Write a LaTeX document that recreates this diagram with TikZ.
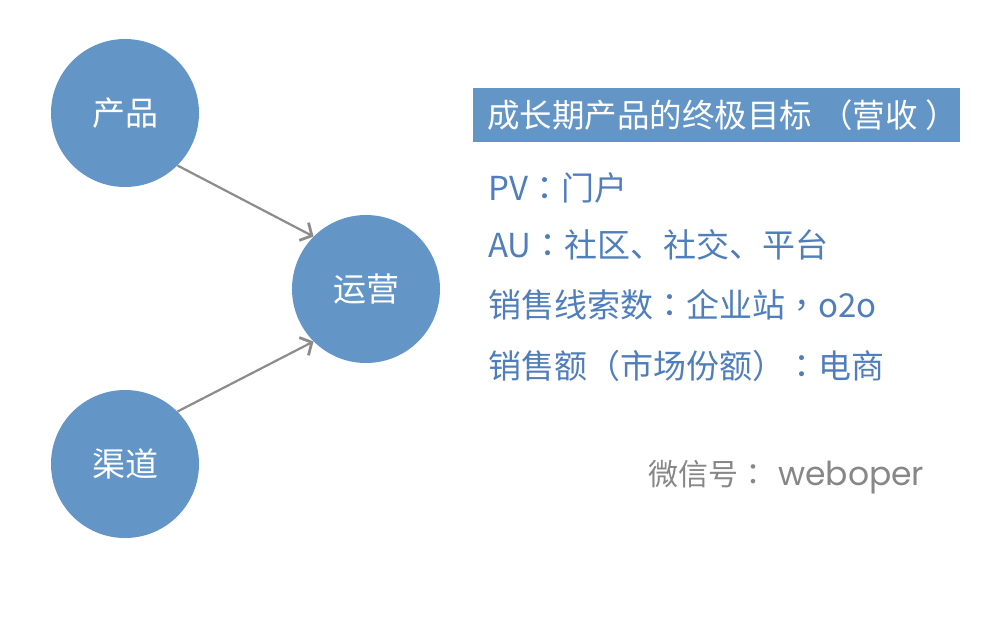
\documentclass[tikz,border=0pt]{standalone}
\usepackage{fontspec}
\setmainfont{Noto Sans CJK SC}
\newfontfamily\tcfont{Noto Sans CJK TC}
\newcommand{\pc}[1]{{\tcfont #1}}
\usetikzlibrary{arrows.meta}
\definecolor{cfill}{RGB}{99,150,199}
\definecolor{tblue}{RGB}{79,126,187}
\definecolor{agray}{RGB}{140,140,140}
\definecolor{wgray}{RGB}{135,135,135}
\begin{document}
\begin{tikzpicture}[x=1pt,y=-1pt,
  circ/.style={circle,fill=cfill,minimum size=148pt,inner sep=0pt,text=white,font=\fontsize{33}{35}\selectfont},
  conn/.style={draw=agray,line width=2.2pt,-{Straight Barb[length=9pt,width=20pt,line width=2.8pt]}},
  item/.style={anchor=west,text=tblue,inner sep=0pt,font=\fontsize{33}{36}\selectfont}]
\useasboundingbox (0,0) rectangle (1008,638);
\node[circ] (p) at (125,113) {产品};
\node[circ] (y) at (366,289) {运营};
\node[circ] (q) at (125,464) {渠道};
\draw[conn] (p.-45) -- (y.135);
\draw[conn] (q.45) -- (y.-135);
\node[fill=cfill,minimum width=487pt,minimum height=54pt,inner sep=0pt] (hdr) at (716.5,115) {};
\node[anchor=west,text=white,inner sep=0pt,font=\fontsize{32.5}{35}\selectfont] (ht) at (487,115) {成长期产品的终极目标\hspace{8pt}\pc{（}营收\hspace{8pt}\pc{）}};
\node[item] (l1) at (488,188) {PV\pc{：}门户};
\node[item] (l2) at (488,245) {AU\pc{：}社区、社交、平台};
\node[item] (l3) at (488,305) {销售线索数\pc{：}企业站\pc{，}o2o};
\node[item] (l4) at (488,366) {销售额\pc{（}市场份额\pc{）：}电商};
\node[anchor=west,text=wgray,inner sep=0pt,font=\fontsize{30}{32}\selectfont] (wm) at (648,477) {微信号\pc{：}\hspace{10pt}\fontspec{Poppins}\fontsize{33}{35}\selectfont weboper};
\end{tikzpicture}
\end{document}
